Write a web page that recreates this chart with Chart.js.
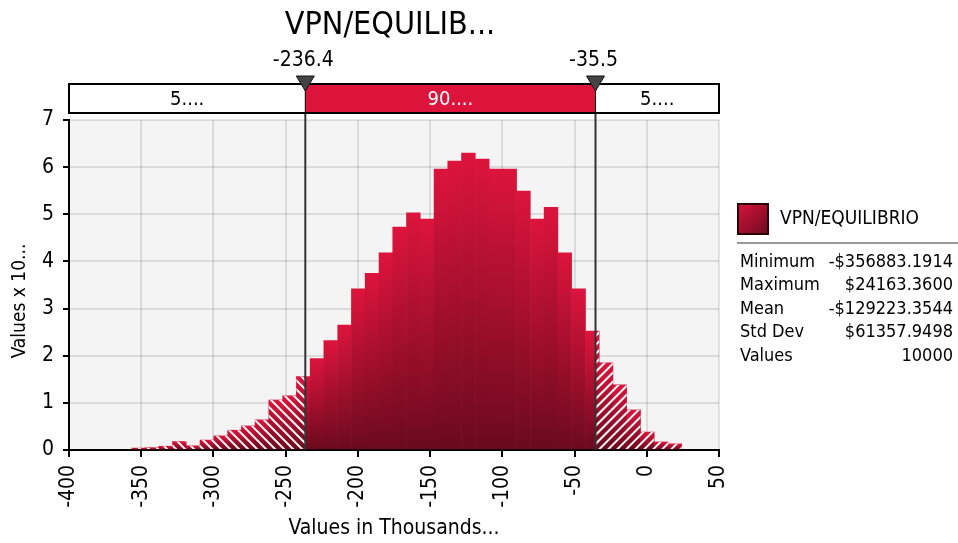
<!DOCTYPE html>
<html>
<head>
<meta charset="utf-8">
<script src="https://cdn.jsdelivr.net/npm/chart.js@4.4.1/dist/chart.umd.min.js"></script>
<style>
  html, body { margin: 0; padding: 0; background: #fff; }
</style>
</head>
<body>
<canvas id="chart" width="958" height="543"></canvas>
<script>
// histogram bins (centres, in thousands) and heights
const binCenters = [
  -352.1, -342.6, -333.1, -323.6, -314.0, -304.5, -295.0, -285.4, -275.9, -266.4,
  -256.9, -247.3, -237.8, -228.3, -218.8, -209.2, -199.7, -190.2, -180.6, -171.1,
  -161.6, -152.1, -142.5, -133.0, -123.5, -113.9, -104.4, -94.9, -85.4, -75.8,
  -66.3, -56.8, -47.2, -37.7, -28.2, -18.7, -9.1, 0.4, 9.9, 19.4
];
const density = [
  0.04, 0.05, 0.08, 0.18, 0.09, 0.21, 0.30, 0.42, 0.51, 0.64,
  1.06, 1.15, 1.56, 1.94, 2.32, 2.65, 3.42, 3.75, 4.18, 4.73,
  5.03, 4.90, 5.96, 6.13, 6.30, 6.17, 5.96, 5.96, 5.49, 4.90,
  5.15, 4.18, 3.42, 2.52, 1.85, 1.38, 0.85, 0.38, 0.17, 0.13
];
const xTicks = [-400, -350, -300, -250, -200, -150, -100, -50, 0, 50];
const yTicks = [0, 1, 2, 3, 4, 5, 6, 7];
const cutLow = -236.4;
const cutHigh = -35.5;
const cutLabels = ['-236.4', '-35.5'];
const bandLabels = ['5....', '90....', '5....'];
const seriesName = 'VPN/EQUILIBRIO';
const statNames = ['Minimum', 'Maximum', 'Mean', 'Std Dev', 'Values'];
const statValues = ['-$356883.1914', '$24163.3600', '-$129223.3544', '$61357.9498', '10000'];

const FONT = '"DejaVu Sans Condensed", "Liberation Sans", sans-serif';
const RED = '#dc143c';
const DARK = '#6a0a1e';
const GRID = 'rgba(0,0,0,0.1)';

Chart.defaults.font.family = FONT;
Chart.defaults.color = '#000';

const barFill = (c) => {
  const chart = c.chart;
  const area = chart.chartArea;
  if (!area || c.type !== 'data') return RED;
  const top = chart.scales.y.getPixelForValue(c.parsed.y);
  const g = chart.ctx.createLinearGradient(0, top, 0, area.bottom);
  g.addColorStop(0, RED);
  g.addColorStop(1, DARK);
  return g;
};

const plotBg = {
  id: 'plotBg',
  beforeDraw(chart) {
    const { ctx, chartArea: a } = chart;
    ctx.save();
    ctx.fillStyle = '#f4f4f4';
    ctx.fillRect(a.left, a.top, a.width, a.height);
    ctx.restore();
  }
};

// white diagonal stripes on the bars outside the 90% band
const hatch = {
  id: 'hatch',
  afterDatasetsDraw(chart) {
    const { ctx, chartArea: a, scales: { x } } = chart;
    const lo = x.getPixelForValue(cutLow);
    const hi = x.getPixelForValue(cutHigh);
    const bars = chart.getDatasetMeta(0).data;
    ctx.save();
    ctx.beginPath();
    bars.forEach((b) => {
      const p = b.getProps(['x', 'y', 'base', 'width'], true);
      ctx.rect(p.x - p.width / 2, p.y, p.width, p.base - p.y);
    });
    ctx.clip();
    ctx.strokeStyle = 'rgba(255,255,255,0.95)';
    ctx.lineWidth = 2;
    const h = a.height;

    ctx.save();
    ctx.beginPath();
    ctx.rect(a.left, a.top, lo - a.left, h);
    ctx.clip();
    ctx.beginPath();
    for (let s = a.left - h; s < lo; s += 9) {
      ctx.moveTo(s, a.top);
      ctx.lineTo(s + h, a.bottom);
    }
    ctx.stroke();
    ctx.restore();

    ctx.save();
    ctx.beginPath();
    ctx.rect(hi, a.top, a.right - hi, h);
    ctx.clip();
    ctx.beginPath();
    for (let s = hi - h; s < a.right + h; s += 9) {
      ctx.moveTo(s, a.bottom);
      ctx.lineTo(s + h, a.top);
    }
    ctx.stroke();
    ctx.restore();

    ctx.restore();
  }
};

const overlay = {
  id: 'overlay',
  afterDraw(chart) {
    const { ctx, chartArea: a, scales: { x } } = chart;
    const lo = x.getPixelForValue(cutLow);
    const hi = x.getPixelForValue(cutHigh);
    const bt = 84, bh = 29;
    ctx.save();

    // cut lines
    ctx.strokeStyle = '#333';
    ctx.lineWidth = 2;
    [lo, hi].forEach((px) => {
      ctx.beginPath();
      ctx.moveTo(px, bt + bh);
      ctx.lineTo(px, a.bottom);
      ctx.stroke();
    });

    // probability band
    ctx.fillStyle = '#fff';
    ctx.fillRect(a.left, bt, a.width, bh);
    ctx.fillStyle = RED;
    ctx.fillRect(lo, bt, hi - lo, bh);
    ctx.strokeStyle = '#000';
    ctx.lineWidth = 1;
    [lo, hi].forEach((px) => {
      ctx.beginPath();
      ctx.moveTo(px, bt);
      ctx.lineTo(px, bt + bh);
      ctx.stroke();
    });
    ctx.lineWidth = 2;
    ctx.strokeRect(a.left, bt, a.width, bh);

    ctx.font = `20px ${FONT}`;
    ctx.textAlign = 'center';
    ctx.textBaseline = 'middle';
    ctx.fillStyle = '#000';
    ctx.fillText(bandLabels[0], (a.left + lo) / 2, bt + bh / 2 + 1);
    ctx.fillStyle = '#fff';
    ctx.fillText(bandLabels[1], (lo + hi) / 2, bt + bh / 2 + 1);
    ctx.fillStyle = '#000';
    ctx.fillText(bandLabels[2], (hi + a.right) / 2, bt + bh / 2 + 1);

    // markers and their labels
    [lo, hi].forEach((px, i) => {
      ctx.beginPath();
      ctx.moveTo(px - 9, 76);
      ctx.lineTo(px + 9, 76);
      ctx.lineTo(px, 91);
      ctx.closePath();
      ctx.fillStyle = '#444';
      ctx.fill();
      ctx.strokeStyle = '#111';
      ctx.lineWidth = 1;
      ctx.stroke();
      ctx.fillStyle = '#000';
      ctx.font = `21px ${FONT}`;
      ctx.fillText(cutLabels[i], px - 2, 61);
    });

    // title
    ctx.font = `32px ${FONT}`;
    ctx.fillText('VPN/EQUILIB...', (a.left + a.right) / 2 - 4, 26);

    // y axis title, sitting a little below the middle of the axis
    ctx.save();
    ctx.translate(20, (a.top + a.bottom) / 2 + 16);
    ctx.rotate(-Math.PI / 2);
    ctx.font = `19px ${FONT}`;
    ctx.fillText('Values x 10...', 0, 0);
    ctx.restore();

    // legend swatch
    const g = ctx.createLinearGradient(737, 203, 769, 235);
    g.addColorStop(0, RED);
    g.addColorStop(1, DARK);
    ctx.fillStyle = g;
    ctx.fillRect(738, 204, 30, 30);
    ctx.strokeStyle = '#2a0008';
    ctx.lineWidth = 2;
    ctx.strokeRect(738, 204, 30, 30);
    ctx.fillStyle = '#000';
    ctx.textAlign = 'left';
    ctx.font = `19px ${FONT}`;
    ctx.fillText(seriesName, 780, 219);

    ctx.strokeStyle = '#999';
    ctx.lineWidth = 2;
    ctx.beginPath();
    ctx.moveTo(737, 243);
    ctx.lineTo(958, 243);
    ctx.stroke();

    // stats table
    ctx.font = `18px ${FONT}`;
    statNames.forEach((name, i) => {
      const y = 262 + i * 23.5;
      ctx.textAlign = 'left';
      ctx.fillText(name, 740, y);
      ctx.textAlign = 'right';
      ctx.fillText(statValues[i], 953, y);
    });

    ctx.restore();
  }
};

new Chart(document.getElementById('chart'), {
  type: 'bar',
  data: {
    datasets: [{
      label: seriesName,
      data: binCenters.map((c, i) => ({ x: c, y: density[i] })),
      backgroundColor: barFill,
      borderWidth: 0,
      barPercentage: 1,
      categoryPercentage: 1
    }]
  },
  options: {
    responsive: false,
    animation: false,
    layout: { padding: { top: 120, right: 239, left: 0, bottom: 0 } },
    plugins: {
      legend: { display: false },
      tooltip: { enabled: false }
    },
    scales: {
      x: {
        type: 'linear',
        min: -400,
        max: 50,
        offset: false,
        z: 1,
        afterBuildTicks: (s) => { s.ticks = xTicks.map((v) => ({ value: v })); },
        afterFit: (s) => { s.height = 93; },
        ticks: { minRotation: 90, maxRotation: 90, autoSkip: false, font: { size: 21 }, padding: 8, color: '#000' },
        grid: { offset: false, color: GRID, lineWidth: 2, tickColor: '#000', tickLength: 7, tickWidth: 2 },
        border: { color: '#000', width: 2 },
        title: { display: true, text: 'Values in Thousands...', font: { size: 21 }, padding: { top: 0, bottom: 2 } }
      },
      y: {
        min: 0,
        max: 7,
        z: 1,
        afterBuildTicks: (s) => { s.ticks = yTicks.map((v) => ({ value: v })); },
        afterFit: (s) => { s.width = 69; },
        ticks: { font: { size: 21 }, padding: 9, color: '#000' },
        grid: { color: GRID, lineWidth: 2, tickColor: '#000', tickLength: 6, tickWidth: 2 },
        border: { color: '#000', width: 2 },
        title: { display: false }
      }
    }
  },
  plugins: [plotBg, hatch, overlay]
});
</script>
</body>
</html>
